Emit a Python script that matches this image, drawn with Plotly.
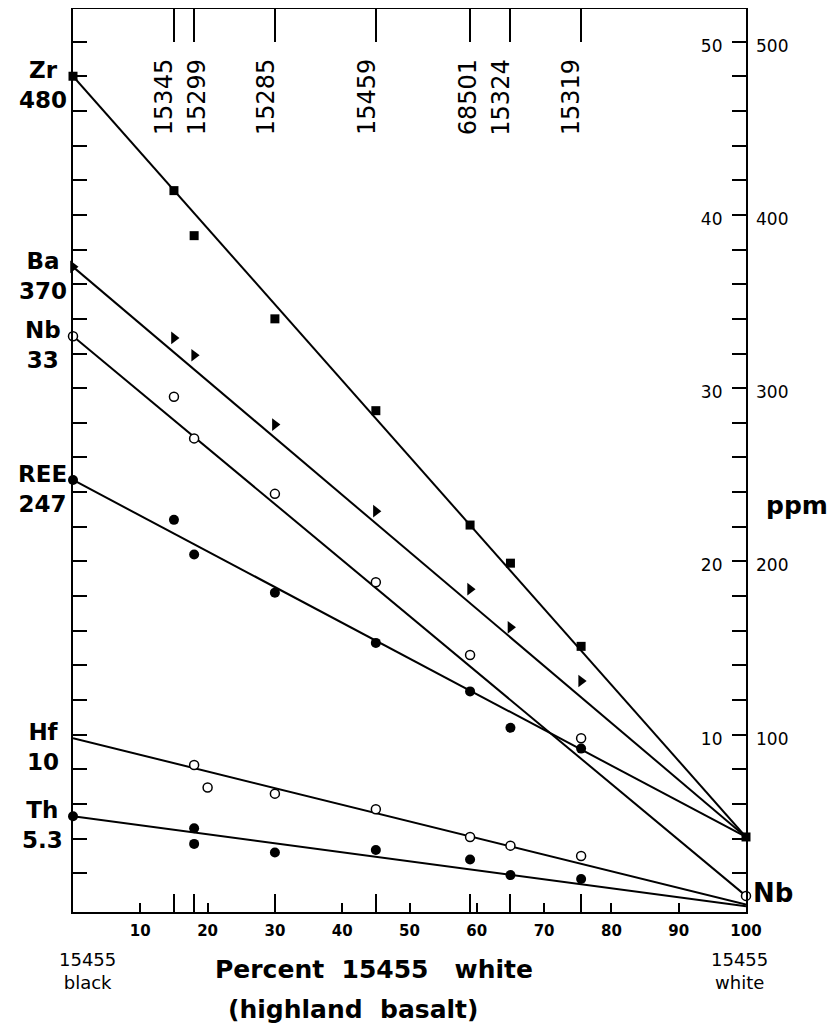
import plotly.graph_objects as go

# ---------------- data ----------------
sample_names = ["15345", "15299", "15285", "15459", "68501", "15324", "15319"]
sample_x = [15, 18, 30, 45, 59, 65, 75.5]

elements = ["Zr", "Ba", "Nb", "REE", "Hf", "Th"]
black_values = ["480", "370", "33", "247", "10", "5.3"]
line_start = [48.0, 37.0, 33.0, 24.7, 9.8, 5.3]     # at 0 % white
line_end = [4.1, 4.1, 0.7, 4.1, 0.2, 0.1]           # at 100 % white

zr_x = [0, 15, 18, 30, 45, 59, 65, 75.5, 100]
zr_y = [48.0, 41.4, 38.8, 34.0, 28.7, 22.1, 19.9, 15.1, 4.1]

ba_x = [0, 15, 18, 30, 45, 59, 65, 75.5]
ba_y = [37.0, 32.9, 31.9, 27.9, 22.9, 18.4, 16.2, 13.1]

nb_x = [0, 15, 18, 30, 45, 59, 75.5, 100]
nb_y = [33.0, 29.5, 27.1, 23.9, 18.8, 14.6, 9.8, 0.7]

ree_x = [0, 15, 18, 30, 45, 59, 65, 75.5]
ree_y = [24.7, 22.4, 20.4, 18.2, 15.3, 12.5, 10.4, 9.2]

hf_x = [18, 20, 30, 45, 59, 65, 75.5]
hf_y = [8.25, 6.95, 6.6, 5.7, 4.1, 3.6, 3.0]

th_x = [0, 18, 18, 30, 45, 59, 65, 75.5]
th_y = [5.3, 4.6, 3.7, 3.2, 3.35, 2.8, 1.9, 1.67]

x_ticks = [10, 20, 30, 40, 50, 60, 70, 80, 90, 100]
y_inner_ticks = [10, 20, 30, 40, 50]
y_outer_labels = ["100", "200", "300", "400", "500"]
minor_y = [v * 2 for v in range(1, 26)]

# ---------------- style ----------------
FONT = "DejaVu Sans"
YR = [-0.23, 51.88]
label_xshift = [-10, 3, -9, -9, -2, -9, -10]   # pixel nudges of the rotated sample labels

fig = go.Figure()

# regression lines
for s, e in zip(line_start, line_end):
    fig.add_trace(go.Scatter(x=[0, 100], y=[s, e], mode="lines",
                             line=dict(color="black", width=2),
                             hoverinfo="skip", showlegend=False, cliponaxis=False))

def pts(x, y, symbol, fill, size=9, lw=0):
    fig.add_trace(go.Scatter(
        x=x, y=y, mode="markers", showlegend=False, cliponaxis=False,
        marker=dict(symbol=symbol, size=size, color=fill,
                    line=dict(color="black", width=lw))))

pts(zr_x, zr_y, "square", "black", 9)
pts(ba_x, ba_y, "triangle-right", "black", 11)
pts(nb_x, nb_y, "circle", "white", 9, 1.5)
pts(ree_x, ree_y, "circle", "black", 10)
pts(hf_x, hf_y, "circle", "white", 9, 1.5)
pts(th_x, th_y, "circle", "black", 10)

# dummy traces to activate overlay axes
fig.add_trace(go.Scatter(x=[None], y=[None], xaxis="x2", yaxis="y", showlegend=False))
fig.add_trace(go.Scatter(x=[None], y=[None], xaxis="x3", yaxis="y", showlegend=False))
fig.add_trace(go.Scatter(x=[None], y=[None], xaxis="x", yaxis="y2", showlegend=False))
fig.add_trace(go.Scatter(x=[None], y=[None], xaxis="x", yaxis="y3", showlegend=False))
fig.add_trace(go.Scatter(x=[None], y=[None], xaxis="x", yaxis="y4", showlegend=False))

ax_common = dict(showgrid=False, zeroline=False, tickcolor="black", tickwidth=2)
tf = dict(size=17, family=FONT, color="black")

fig.update_layout(
    width=830, height=1018,
    margin=dict(l=65, r=92, t=1, b=114),
    paper_bgcolor="white", plot_bgcolor="white",
    showlegend=False,
    font=dict(family=FONT, color="black"),
    xaxis=dict(range=[0, 100.0001], showline=True, linecolor="black", linewidth=2,
               ticks="inside", ticklen=9, tickvals=x_ticks,
               ticktext=[f"<b>{v}</b>" for v in x_ticks],
               tickfont=dict(size=15, family=FONT, color="black"), ticklabelstandoff=4,
               **ax_common),
    xaxis2=dict(range=[0, 100.0001], overlaying="x", side="bottom", anchor="y",
                showline=False, ticks="inside", ticklen=18, tickvals=sample_x,
                showticklabels=False, **ax_common),
    xaxis3=dict(range=[0, 100.0001], overlaying="x", side="top", anchor="y",
                showline=True, linecolor="black", linewidth=2,
                ticks="inside", ticklen=33, tickvals=sample_x,
                showticklabels=False, **ax_common),
    yaxis=dict(range=YR, showline=True, linecolor="black", linewidth=2,
               ticks="inside", ticklen=14, tickvals=minor_y,
               showticklabels=False, **ax_common),
    yaxis2=dict(range=YR, overlaying="y", side="right", anchor="x",
                showline=True, linecolor="black", linewidth=2,
                ticks="inside", ticklen=14, tickvals=minor_y,
                showticklabels=False, **ax_common),
    yaxis3=dict(range=YR, overlaying="y", side="right", anchor="x",
                showline=False, ticks="", tickvals=y_inner_ticks,
                ticktext=y_outer_labels, ticklabelstandoff=9, ticklabelshift=4,
                tickfont=tf, showgrid=False, zeroline=False),
    yaxis4=dict(range=YR, overlaying="y", side="left", anchor="free", position=0.968,
                showline=False, ticks="", tickvals=y_inner_ticks,
                ticktext=[str(v) for v in y_inner_ticks], ticklabelstandoff=2,
                ticklabelshift=4, tickfont=tf, showgrid=False, zeroline=False),
)

ann = []
# sample labels at top
for nm, xv, sh in zip(sample_names, sample_x, label_xshift):
    ann.append(dict(x=xv, y=0.858, xref="x", yref="paper", text=nm,
                    textangle=-90, showarrow=False, xanchor="center",
                    yanchor="bottom", xshift=sh,
                    font=dict(size=24, family=FONT, color="black")))
# element labels at left
for el, val, ys in zip(elements, black_values, line_start):
    ann.append(dict(x=-0.0446, y=ys, xref="paper", yref="y",
                    text=f"<b>{el}</b><br><b>{val}</b>", showarrow=False,
                    xanchor="center", yanchor="middle", yshift=-9, align="center",
                    font=dict(size=23, family=FONT, color="black")))
# Nb at right
ann.append(dict(x=100, y=nb_y[-1], xref="x", yref="y", text="<b>Nb</b>",
                showarrow=False, xanchor="left", yanchor="middle", xshift=5, yshift=3,
                font=dict(size=26, family=FONT, color="black")))
# ppm
ann.append(dict(x=1.0758, y=0.4507, xref="paper", yref="paper", text="<b>ppm</b>",
                showarrow=False, xanchor="center", yanchor="middle",
                font=dict(size=25, family=FONT, color="black")))
# endmember labels
ann.append(dict(x=0.022, y=-0.0653, xref="paper", yref="paper", text="15455<br>black",
                showarrow=False, xanchor="center", yanchor="middle", align="center",
                font=dict(size=18, family=FONT, color="black")))
ann.append(dict(x=0.991, y=-0.0653, xref="paper", yref="paper", text="15455<br>white",
                showarrow=False, xanchor="center", yanchor="middle", align="center",
                font=dict(size=18, family=FONT, color="black")))
# axis title
ann.append(dict(x=0.447, y=-0.0642, xref="paper", yref="paper",
                text="<b>Percent&nbsp; 15455&nbsp;&nbsp; white</b>",
                showarrow=False, xanchor="center", yanchor="middle",
                font=dict(size=25, family=FONT, color="black")))
ann.append(dict(x=0.4175, y=-0.1085, xref="paper", yref="paper",
                text="<b>(highland&nbsp; basalt)</b>",
                showarrow=False, xanchor="center", yanchor="middle",
                font=dict(size=25, family=FONT, color="black")))

fig.update_layout(annotations=ann)
fig.write_html("out.html")
